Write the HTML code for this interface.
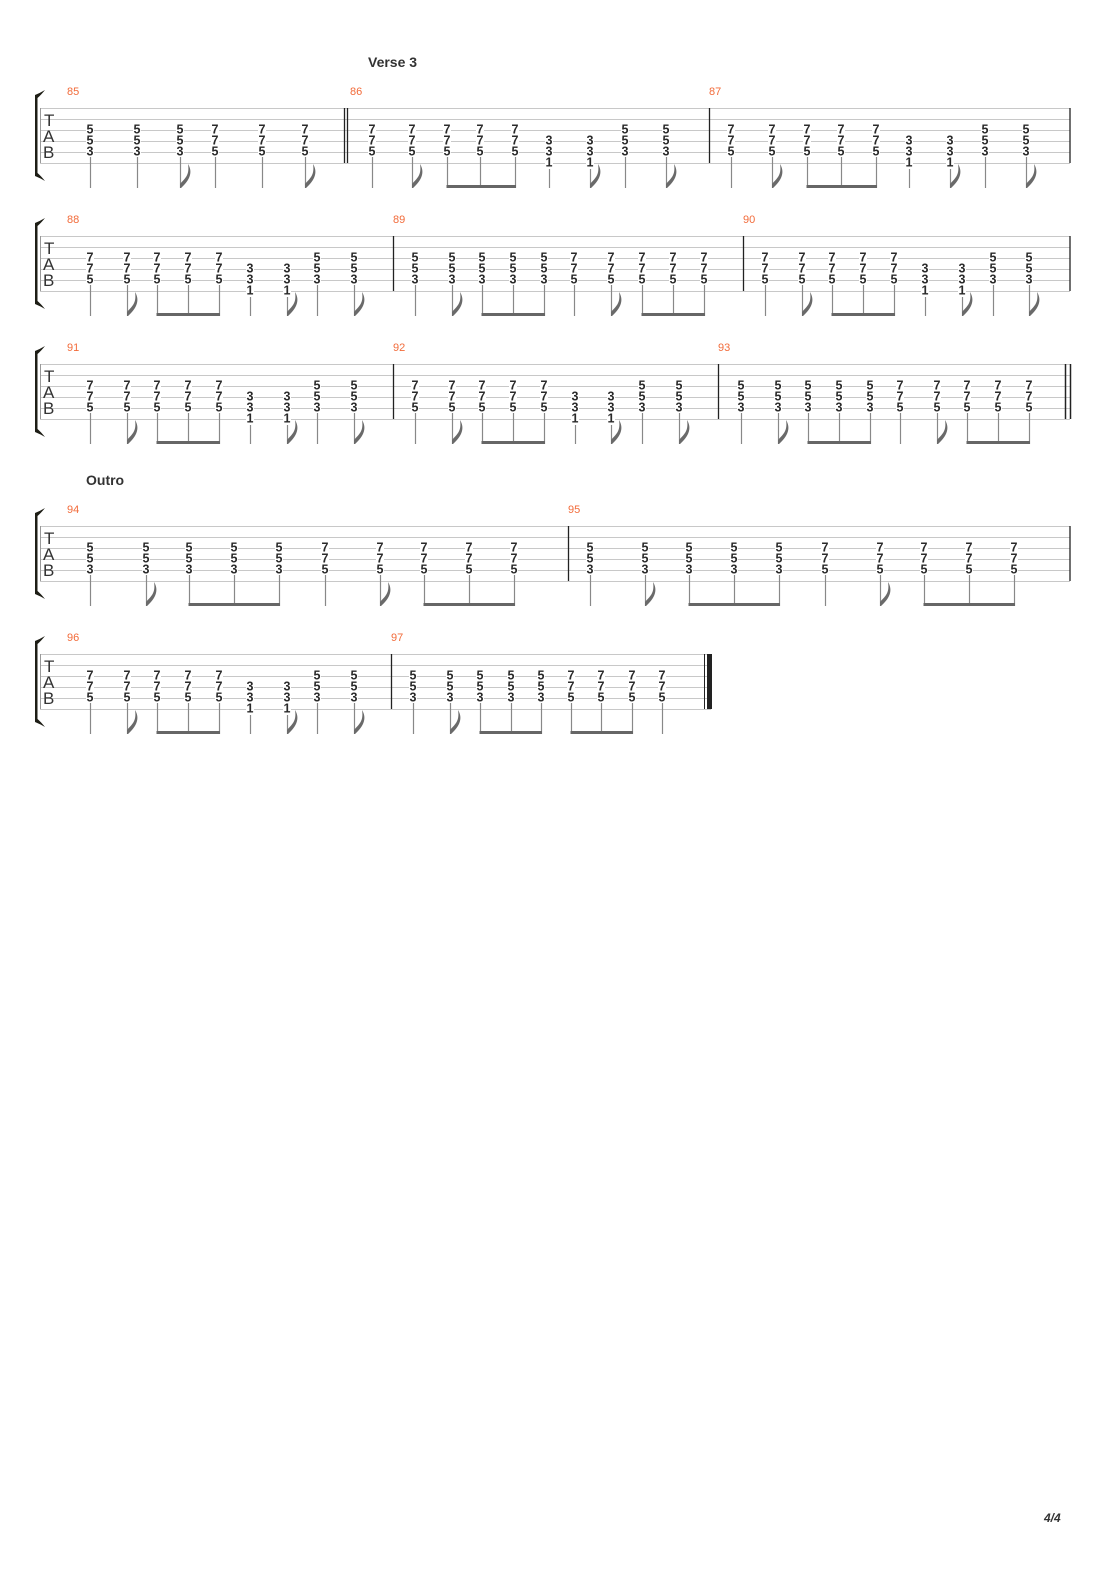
<!DOCTYPE html>
<html><head><meta charset="utf-8"><style>
html,body{margin:0;padding:0;background:#fff;}
svg{display:block;}
.n{font-family:"Liberation Sans",sans-serif;font-size:12.5px;font-weight:bold;fill:#2a2a2a;text-anchor:middle;}
.m{font-family:"Liberation Sans",sans-serif;font-size:11px;fill:#f26b3a;}
.lbl{font-family:"Liberation Sans",sans-serif;font-size:14px;font-weight:bold;fill:#333;}
.tab{font-family:"Liberation Sans",sans-serif;font-size:17px;fill:#333;}
</style></head><body>
<svg id="s" width="1110" height="1570" viewBox="0 0 1110 1570" xmlns="http://www.w3.org/2000/svg">
<rect width="1110" height="1570" fill="#fff"/>
<text class="lbl" x="368" y="67">Verse 3</text>
<text class="lbl" x="86" y="485">Outro</text>
<text class="m" x="67" y="95">85</text>
<text class="m" x="350" y="95">86</text>
<text class="m" x="709" y="95">87</text>
<text class="m" x="67" y="223">88</text>
<text class="m" x="393" y="223">89</text>
<text class="m" x="743" y="223">90</text>
<text class="m" x="67" y="351">91</text>
<text class="m" x="393" y="351">92</text>
<text class="m" x="718" y="351">93</text>
<text class="m" x="67" y="513">94</text>
<text class="m" x="568" y="513">95</text>
<text class="m" x="67" y="641">96</text>
<text class="m" x="391" y="641">97</text>
<text x="1044" y="1522" style="font-family:'Liberation Sans',sans-serif;font-size:12px;font-weight:bold;font-style:italic;fill:#333">4/4</text>
<g id="g"></g>
</svg>
<script>
var systems=[
 {top:108,end:1070,extraBars:[344,347,709],endType:'single',notes:"A90q A137q A180f B215q B262q B305f B372q B412f B447b B480b B515b C549q C590f A625q A666f B731q B772f B807b B841b B876b C909q C950f A985q A1026f"},
 {top:236,end:1070,extraBars:[393,743],endType:'single',notes:"B90q B127f B157b B188b B219b C250q C287f A317q A354f A415q A452f A482b A513b A544b B574q B611f B642b B673b B704b B765q B802f B832b B863b B894b C925q C962f A993q A1029f"},
 {top:364,end:1070,extraBars:[393,718],endType:'double',notes:"B90q B127f B157b B188b B219b C250q C287f A317q A354f B415q B452f B482b B513b B544b C575q C611f A642q A679f A741q A778f A808b A839b A870b B900q B937f B967b B998b B1029b"},
 {top:526,end:1070,extraBars:[568],endType:'single',notes:"A90q A146f A189b A234b A279b B325q B380f B424b B469b B514b A590q A645f A689b A734b A779b B825q B880f B924b B969b B1014b"},
 {top:654,end:711,extraBars:[391],endType:'final',notes:"B90q B127f B157b B188b B219b C250q C287f A317q A354f A413q A450f A480b A511b A541b B571c B601b B632b B662q"}
];
var chords={A:[[2,'5'],[3,'5'],[4,'3']],B:[[2,'7'],[3,'7'],[4,'5']],C:[[3,'3'],[4,'3'],[5,'1']]};
var h='';
systems.forEach(function(s){
 var t=s.top,sp=11;
 for(var i=0;i<6;i++){h+='<line x1="40" x2="'+s.end+'" y1="'+(t+i*sp+.5)+'" y2="'+(t+i*sp+.5)+'" stroke="#c8c8c8" stroke-width="1"/>';}
 h+='<line x1="40.5" x2="40.5" y1="'+t+'" y2="'+(t+55)+'" stroke="#999" stroke-width="1"/>';
 h+='<path d="M35 '+(t-13)+' L35 '+(t+68)+' L37.5 '+(t+68)+' L37.5 '+(t-13)+' Z" fill="#1e1e16"/>';
 h+='<path d="M35 '+(t-13)+' Q40 '+(t-15)+' 45 '+(t-18)+' Q41 '+(t-13)+' 37.5 '+(t-10)+' Z" fill="#1e1e16"/>';
 h+='<path d="M35 '+(t+68)+' Q40 '+(t+70)+' 45 '+(t+73)+' Q41 '+(t+68)+' 37.5 '+(t+65)+' Z" fill="#1e1e16"/>';
 h+='<text class="tab" x="44" y="'+(t+18)+'">T</text><text class="tab" x="43" y="'+(t+34)+'">A</text><text class="tab" x="43" y="'+(t+50)+'">B</text>';
 s.extraBars.forEach(function(x){h+='<line x1="'+(x+0.5)+'" x2="'+(x+0.5)+'" y1="'+t+'" y2="'+(t+55)+'" stroke="#222" stroke-width="1.3"/>';});
 if(s.endType=='single')h+='<line x1="1070" x2="1070" y1="'+t+'" y2="'+(t+55)+'" stroke="#222" stroke-width="1.3"/>';
 if(s.endType=='double')h+='<line x1="1065.5" x2="1065.5" y1="'+t+'" y2="'+(t+55)+'" stroke="#222" stroke-width="1.5"/><line x1="1070.5" x2="1070.5" y1="'+t+'" y2="'+(t+55)+'" stroke="#222" stroke-width="1.5"/>';
 if(s.endType=='final')h+='<line x1="704.5" x2="704.5" y1="'+t+'" y2="'+(t+55)+'" stroke="#222" stroke-width="1"/><rect x="707" y="'+t+'" width="5" height="55" fill="#222"/>';
 var notes=s.notes.split(' ');var beam=[];
 function flush(){if(beam.length>1){h+='<rect x="'+(beam[0]-0.5)+'" y="'+(t+77)+'" width="'+(beam[beam.length-1]-beam[0]+1.5)+'" height="3" fill="#666"/>';}beam=[];}
 notes.forEach(function(n){
  var c=n[0],r=n[n.length-1],x=parseFloat(n.slice(1,-1));
  chords[c].forEach(function(p){var y=t+p[0]*sp;
   h+='<rect x="'+(x-4)+'" y="'+(y-5)+'" width="8" height="9" fill="#fff"/>';
   h+='<text class="n" x="'+x+'" y="'+(y+3.5)+'">'+p[1]+'</text>';});
  var st=(c=='C')?t+61:t+49;
  h+='<line x1="'+(x+0.5)+'" x2="'+(x+0.5)+'" y1="'+st+'" y2="'+(t+80)+'" stroke="#888" stroke-width="1.2"/>';
  if(r=='f'){var b=t+80;h+='<path d="M'+x+' '+b+' L'+x+' '+(b-4)+' C'+(x+4)+' '+(b-9)+' '+(x+10)+' '+(b-12)+' '+(x+8)+' '+(b-24)+' C'+(x+13)+' '+(b-16)+' '+(x+10)+' '+(b-8)+' '+(x+1)+' '+b+' Z" fill="#6a6a6a"/>';}
  if(r=='c'){flush();beam.push(x);}
  else if(r=='b'){beam.push(x);}else flush();
 });flush();
});
document.getElementById('g').innerHTML=h;
</script>
</body></html>
